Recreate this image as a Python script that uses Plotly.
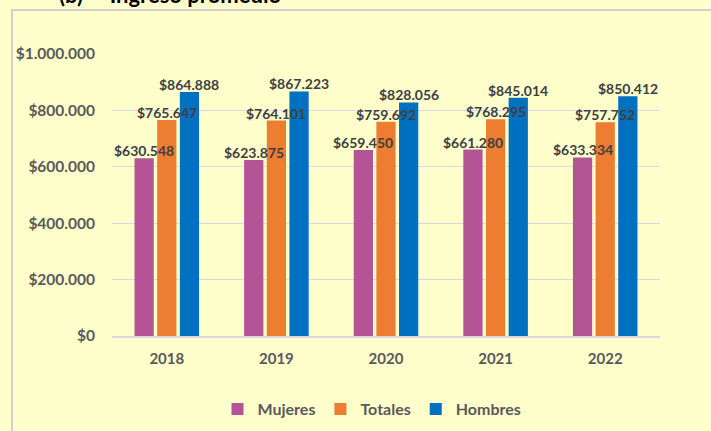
import plotly.graph_objects as go

years = ["2018", "2019", "2020", "2021", "2022"]
mujeres = [630548, 623875, 659450, 661280, 633334]
totales = [765647, 764101, 759692, 768295, 757752]
hombres = [864888, 867223, 828056, 845014, 850412]
tick_vals = [0, 200000, 400000, 600000, 800000, 1000000]
tick_text = ["$0", "$200.000", "$400.000", "$600.000", "$800.000", "$1.000.000"]

def fmt(v):
    return "$" + f"{v:,}".replace(",", ".")

FONT = "Lato"
series = [("Mujeres", mujeres, "#B45497"), ("Totales", totales, "#ED7D31"), ("Hombres", hombres, "#0070C0")]

L, R, T, B = 112, 51, 54, 95
W, H = 711, 431
pw, ph = W - L - R, H - T - B
BARGAP, GROUPGAP = 0.38, 0.15
slot = pw / len(years) * (1 - BARGAP) / len(series)

def px(x):
    return (x - L) / pw

def py(y):
    return (H - B - y) / ph

fig = go.Figure()
for i, (name, vals, col) in enumerate(series):
    fig.add_trace(go.Bar(name=name, x=years, y=vals, marker_color=col, marker_line_width=0))
for i, (name, vals, col) in enumerate(series):
    for j, v in enumerate(vals):
        # category axis: position j is the j-th year
        fig.add_annotation(x=j, y=v, xref="x", yref="y", text=fmt(v), showarrow=False,
                           xanchor="center", yanchor="bottom", xshift=(i - 1) * slot, yshift=-3,
                           font=dict(family=FONT, size=14, color="#404040", weight="bold"))

fig.update_layout(
    width=W, height=H,
    margin=dict(l=L, r=R, t=T, b=B, autoexpand=False),
    paper_bgcolor="#FFFFCC", plot_bgcolor="#FFFFCC",
    barmode="group", bargap=BARGAP, bargroupgap=GROUPGAP,
    font=dict(family=FONT, size=13, color="#595959"),
    showlegend=True,
    legend=dict(orientation="h", x=px(372), xanchor="center", y=py(409), yanchor="middle",
                font=dict(family=FONT, size=16, color="#595959", weight="bold"),
                itemwidth=30, traceorder="normal", bgcolor="rgba(0,0,0,0)"),
)
fig.update_yaxes(range=[0, 1000000], tickvals=tick_vals, ticktext=tick_text,
                 showgrid=True, gridcolor="#D9D9E6", gridwidth=1.3, zeroline=False,
                 showline=False, ticks="", ticklabelstandoff=16,
                 tickfont=dict(family=FONT, size=15.5, color="#595959", weight="bold"))
fig.update_xaxes(type="category", categoryorder="array", categoryarray=years,
                 range=[-0.5, len(years) - 0.5],
                 showline=True, linecolor="#D9D9E6", linewidth=1.5, ticks="",
                 ticklabelstandoff=8,
                 tickfont=dict(family=FONT, size=15, color="#595959", weight="bold"))

fig.add_shape(type="rect", xref="paper", yref="paper",
              x0=px(12), x1=px(760), y0=py(480), y1=py(10),
              line=dict(color="#D0D0D0", width=2), fillcolor="rgba(0,0,0,0)", layer="below")
fig.add_annotation(text="(b)     Ingreso promedio", xref="paper", yref="paper",
                   x=px(57), xanchor="left", y=py(10), yanchor="bottom",
                   showarrow=False, font=dict(family=FONT, size=22, color="#000000", weight="bold"))

fig.write_html("out.html", config={"displayModeBar": False},
               post_script="document.body.style.margin='0';")
